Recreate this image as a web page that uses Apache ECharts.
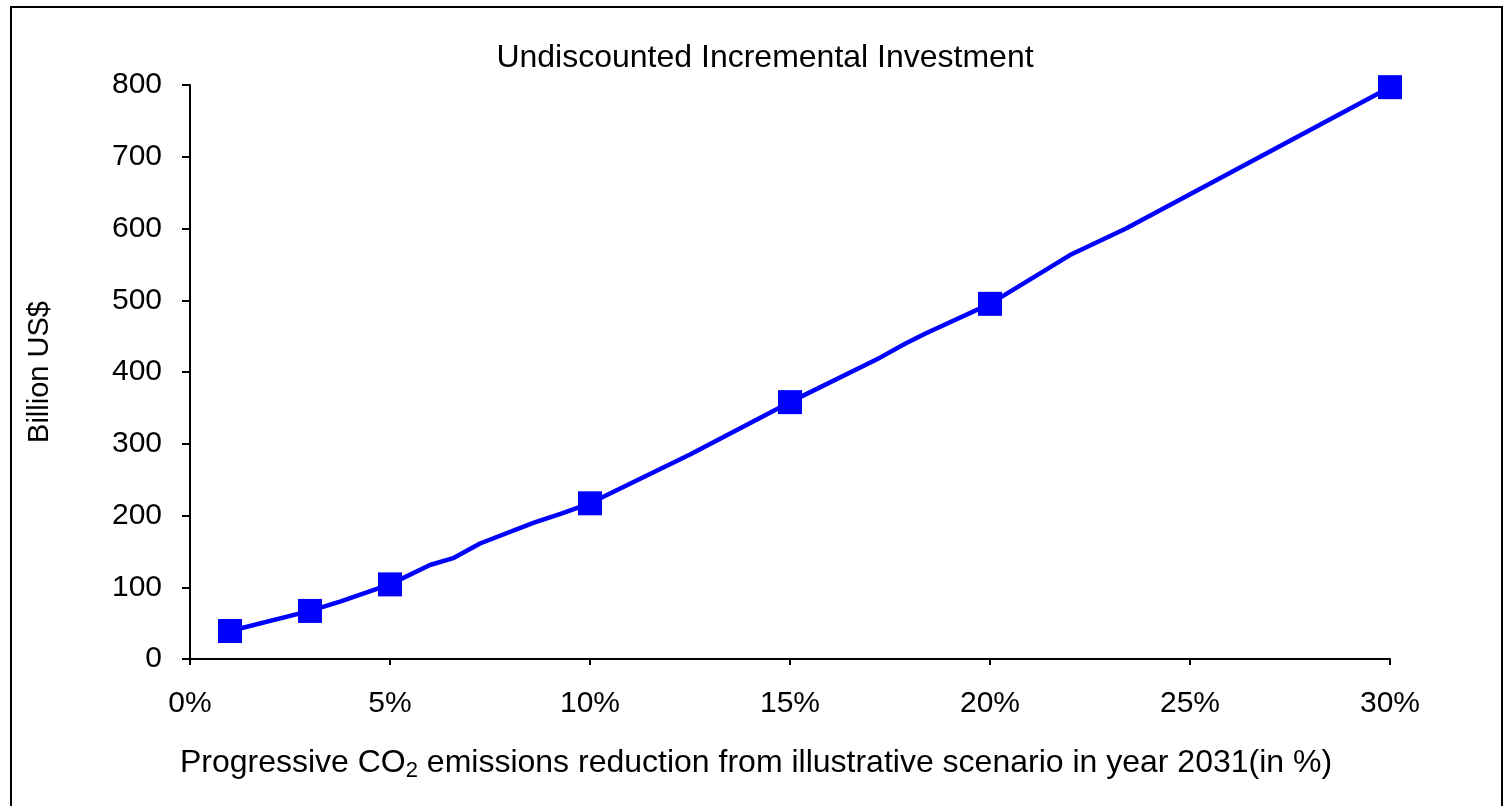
<!DOCTYPE html>
<html>
<head>
<meta charset="utf-8">
<script src="https://cdn.jsdelivr.net/npm/echarts@6/dist/echarts.min.js"></script>
<style>html,body{margin:0;padding:0;background:#fff}#c{width:1504px;height:806px}</style>
</head>
<body>
<div id="c"></div>
<script>
// Marker points (reduction %, billion US$)
var markerX = [1, 3, 5, 10, 15, 20, 30];
var markerY = [39, 67, 104, 217, 358, 495, 797];
// Line trace points
var lineX = [1, 3, 3.75, 5, 6, 6.6, 7.25, 8.6, 9.3, 10, 12.5, 15, 17.25, 17.9, 18.4, 20, 22, 23.4, 30];
var lineY = [39, 67, 80, 104, 131, 141, 161, 190, 203, 217, 285, 358, 420, 440, 454, 495, 563, 600, 797];
var xTicks = [0, 5, 10, 15, 20, 25, 30];
var yTicks = [0, 100, 200, 300, 400, 500, 600, 700, 800];

var chart = echarts.init(document.getElementById('c'));
var font = 'Liberation Sans, Arial, sans-serif';
chart.setOption({
  animation: false,
  backgroundColor: '#fff',
  title: {
    text: 'Undiscounted Incremental Investment',
    left: 760, top: 37, textAlign: 'center',
    textStyle: {fontFamily: font, fontSize: 32, fontWeight: 'normal', color: '#000'}
  },
  grid: {left: 190, right: 114, top: 85, bottom: 147},
  xAxis: {
    type: 'value', min: xTicks[0], max: xTicks[xTicks.length - 1], interval: 5,
    axisLine: {show: true, lineStyle: {color: '#000', width: 2}},
    axisTick: {show: true, length: 6, lineStyle: {color: '#000', width: 2}},
    splitLine: {show: false},
    axisLabel: {formatter: '{value}%', margin: 30, fontFamily: font, fontSize: 30, color: '#000'},
    name: 'Progressive CO{sub|2} emissions reduction from illustrative scenario in year 2031(in %)',
    nameLocation: 'middle', nameGap: 85,
    nameTextStyle: {fontFamily: font, fontSize: 32, color: '#000', padding: [0, 68, 0, 0],
      rich: {sub: {fontFamily: font, fontSize: 22, color: '#000', verticalAlign: 'bottom', padding: [16, 0, 0, 0]}}}
  },
  yAxis: {
    type: 'value', min: yTicks[0], max: yTicks[yTicks.length - 1], interval: 100,
    axisLine: {show: true, lineStyle: {color: '#000', width: 2}},
    axisTick: {show: true, length: 8, lineStyle: {color: '#000', width: 2}},
    splitLine: {show: false},
    axisLabel: {margin: 28, fontFamily: font, fontSize: 30, color: '#000'},
    name: 'Billion US$', nameLocation: 'middle', nameGap: 136, nameRotate: 90,
    nameTextStyle: {fontFamily: font, fontSize: 29, color: '#000'}
  },
  series: [
    {
      type: 'line', data: lineX.map(function (x, i) { return [x, lineY[i]]; }),
      showSymbol: false, symbol: 'none',
      lineStyle: {color: '#0000ff', width: 4.5}, z: 2
    },
    {
      type: 'scatter', data: markerX.map(function (x, i) { return [x, markerY[i]]; }),
      symbol: 'rect', symbolSize: 24,
      itemStyle: {color: '#0000ff', opacity: 1}, z: 3
    }
  ],
  graphic: [{
    type: 'rect', shape: {x: 11, y: 7, width: 1491, height: 820},
    style: {fill: 'none', stroke: '#000', lineWidth: 2}, silent: true
  }]
});
</script>
</body>
</html>
